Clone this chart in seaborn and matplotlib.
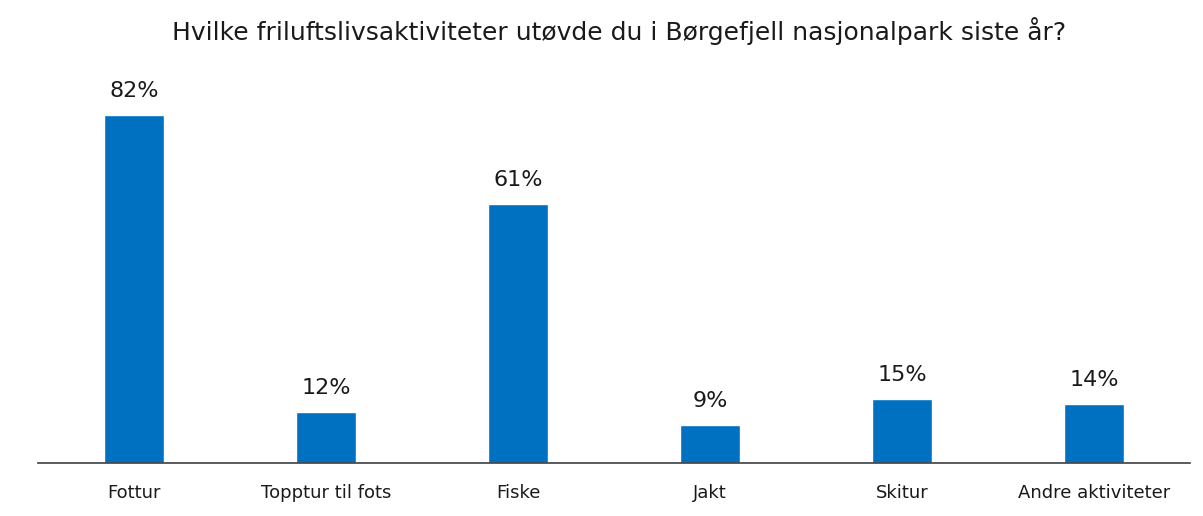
import matplotlib
matplotlib.use("Agg")
import matplotlib.pyplot as plt
import seaborn as sns
import pandas as pd

sns.set_style("white")
plt.rcParams['font.family'] = ['DejaVu Sans']

# data
kategorier = ["Fottur", "Topptur til fots", "Fiske", "Jakt", "Skitur", "Andre aktiviteter"]
andel = [82, 12, 61, 9, 15, 14]
tittel = "Hvilke friluftslivsaktiviteter utøvde du i Børgefjell nasjonalpark siste år?"

df = pd.DataFrame({"Aktivitet": kategorier, "Andel": andel})

fig = plt.figure(figsize=(12.03, 5.16), dpi=100)
ax = fig.add_axes([0.0316, 0.1027, 0.9576, 0.74])

sns.barplot(data=df, x="Aktivitet", y="Andel", color="#0070C0",
            width=0.31, saturation=1, ax=ax)

for i, v in enumerate(andel):
    ax.text(i, v + 3.3, f"{v}%", ha="center", va="bottom", fontsize=16, color="#1a1a1a")

ax.set_xlim(-0.5, 5.5)
ax.set_ylim(0, 90)
ax.set_xlabel("")
ax.set_ylabel("")
ax.set_yticks([])
for s in ["top", "right", "left"]:
    ax.spines[s].set_visible(False)
ax.spines["bottom"].set_color("#404040")
ax.spines["bottom"].set_linewidth(1.2)
ax.tick_params(axis="x", length=0, labelsize=13, pad=15, colors="#1a1a1a")

fig.suptitle(tittel, x=0.515, y=0.967, fontsize=18, color="#1a1a1a")

plt.savefig("out.png", dpi=100)
plt.close()
